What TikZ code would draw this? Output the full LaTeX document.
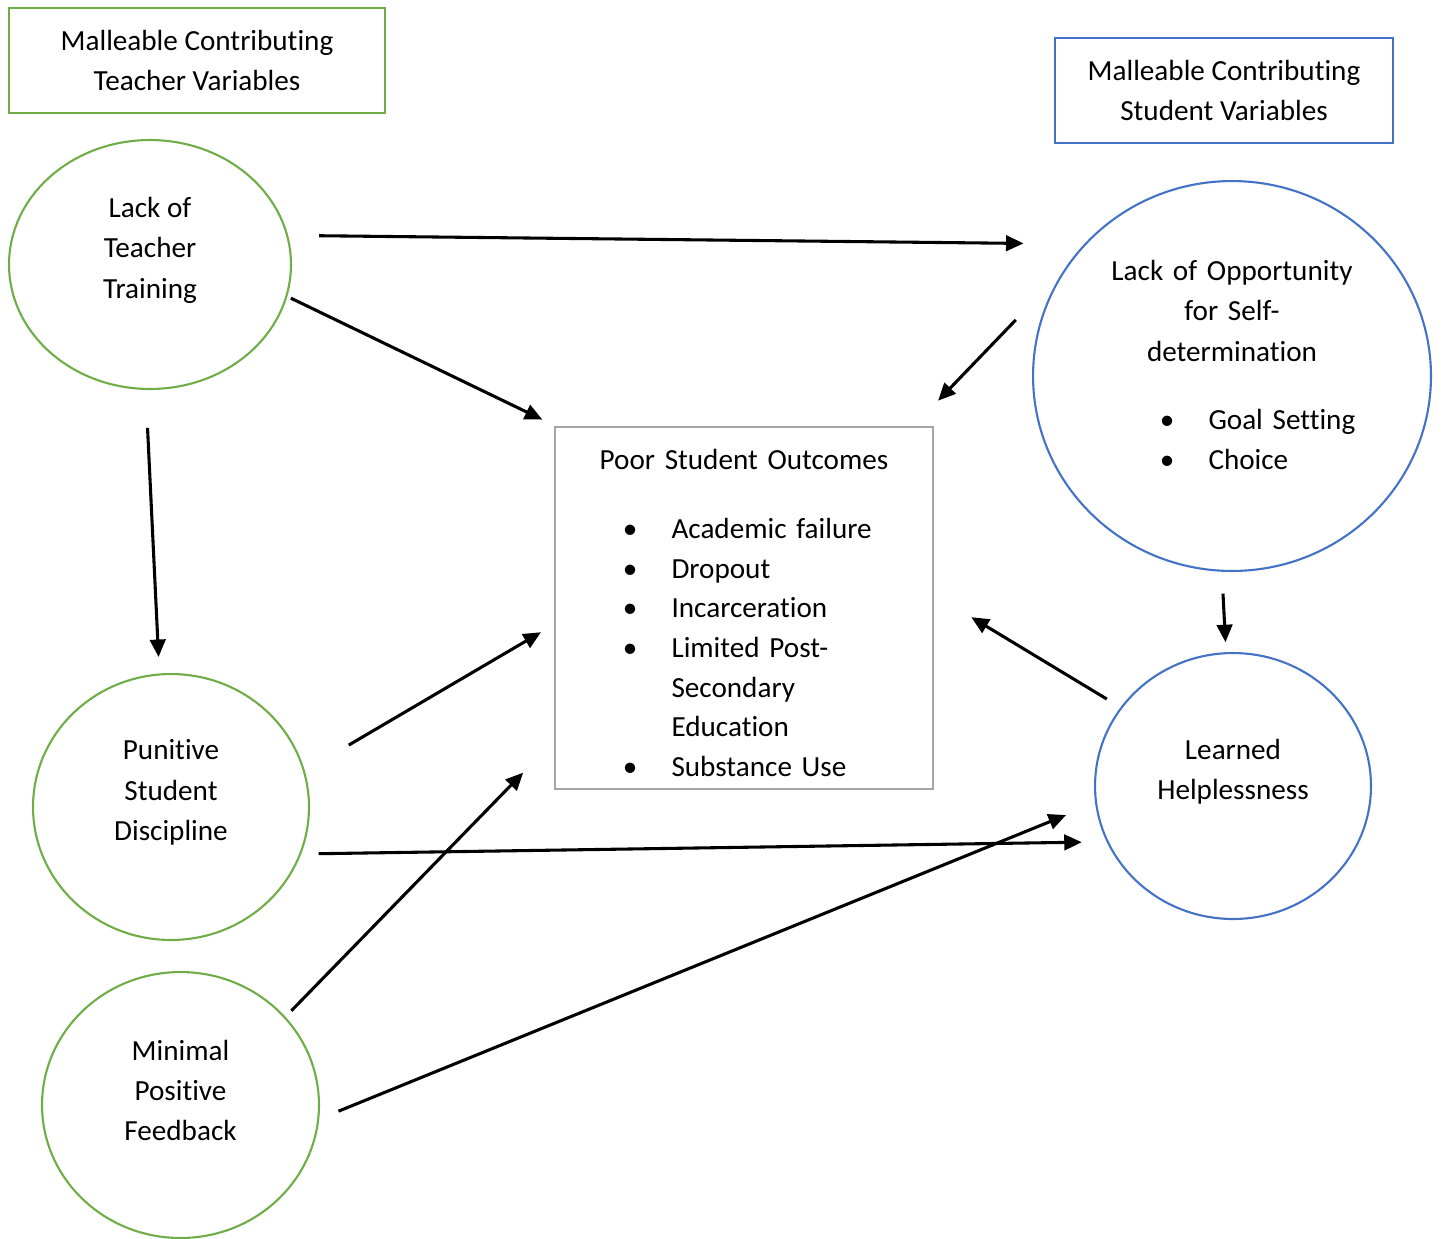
\documentclass[tikz,border=0pt]{standalone}
\usepackage{fontspec}
\setmainfont{Carlito}[Ligatures=NoCommon]
\usetikzlibrary{arrows.meta,shapes.geometric}
\definecolor{vargreen}{RGB}{112,173,71}
\definecolor{varblue}{RGB}{68,114,196}
\definecolor{boxgray}{RGB}{165,165,165}
\newcommand{\bitem}[2]{\hspace*{#1}\makebox[0pt]{\textbullet}\hspace*{0.83cm}#2}

\begin{document}
\begin{tikzpicture}[
  x=0.02cm, y=-0.02cm,
  font=\fontsize{16.6}{23}\selectfont,
  varbox/.style={draw,line width=1.3pt,minimum height=2.1cm,align=center,
    inner sep=0pt,outer sep=0pt},
  bubble/.style={ellipse,draw,line width=1.2pt,inner sep=0pt,outer sep=0pt},
  teacher/.style={bubble,draw=vargreen},
  student/.style={bubble,draw=varblue},
  lbl/.style={align=center,yshift=0.29cm},
  arr/.style={-{Triangle[length=0.35cm,width=0.31cm]},line width=1.75pt}
]
\useasboundingbox (0,0) rectangle (1442,1238);

\node[varbox,draw=vargreen,minimum width=7.52cm] (tvars) at (197,60.5)
 {Malleable Contributing\\Teacher Variables};
\node[varbox,draw=varblue,minimum width=6.76cm] (svars) at (1224,90.5)
 {Malleable Contributing\\Student Variables};

\node[teacher,minimum width=5.64cm,minimum height=4.98cm,
 label={[lbl]center:Lack of\\Teacher\\Training}] (train) at (150,264.5) {};
\node[teacher,minimum width=5.52cm,minimum height=5.32cm,
 label={[lbl]center:Punitive\\Student\\Discipline}] (punish) at (171,807) {};
\node[teacher,minimum width=5.54cm,minimum height=5.32cm,
 label={[lbl]center:Minimal\\Positive\\Feedback}] (praise) at (180.5,1105) {};

\node[student,minimum width=7.96cm,minimum height=7.8cm,
 label={[align=left,text width=8cm,yshift=0.22cm]center:
  \makebox[8cm]{Lack of Opportunity}\\
  \makebox[8cm]{for Self-}\\
  \makebox[8cm]{determination}\\[0.56cm]
  \bitem{2.7cm}{Goal Setting}\\
  \bitem{2.7cm}{Choice}}] (selfdet) at (1232,376) {};
\node[student,minimum width=5.52cm,minimum height=5.32cm,
 label={[lbl]center:Learned\\Helplessness}] (helpless) at (1233,786) {};

\node[draw=boxgray,line width=1.3pt,minimum width=7.56cm,minimum height=7.24cm,
 text width=7.56cm,inner sep=0pt,align=left,font=\fontsize{16.6}{22.6}\selectfont]
 (outcomes) at (744,608)
 {\rule{0pt}{0.61cm}\makebox[7.56cm]{Poor Student Outcomes}\\[0.58cm]
  \bitem{1.5cm}{Academic failure}\\
  \bitem{1.5cm}{Dropout}\\
  \bitem{1.5cm}{Incarceration}\\
  \bitem{1.5cm}{Limited Post-}\\
  \hspace*{2.33cm}Secondary\\
  \hspace*{2.33cm}Education\\
  \bitem{1.5cm}{Substance Use}};

\draw[arr,shorten <=0.64cm,shorten >=1.24cm] (train.12.3) -- (selfdet.138.7);
\draw[arr,shorten <=0.1cm,shorten >=0.29cm] (train.347.5) -- (outcomes.136.8);
\draw[arr,shorten <=0.78cm,shorten >=0.35cm] (train.268.9) -- (punish.95.8);
\draw[arr,shorten <=1.51cm,shorten >=0.7cm] (selfdet.146.9) -- (outcomes.47.6);
\draw[arr,shorten <=0.46cm,shorten >=0.22cm] (selfdet.267.9) -- (helpless.93.5);
\draw[arr,shorten <=0.34cm,shorten >=0.87cm] (helpless.145.6) -- (outcomes.4.9);
\draw[arr,shorten <=1.04cm,shorten >=0.3cm] (punish.15.3) -- (outcomes.185.9);
\draw[arr,shorten <=0.37cm,shorten >=0.52cm] (punish.340.3) -- (helpless.204);
\draw[arr,shorten <=0.19cm,shorten >=0.88cm] (praise.40.4) -- (outcomes.215.7);
\draw[arr,shorten <=0.44cm,shorten >=0.65cm] (praise.354.9) -- (helpless.187);
\end{tikzpicture}
\end{document}
